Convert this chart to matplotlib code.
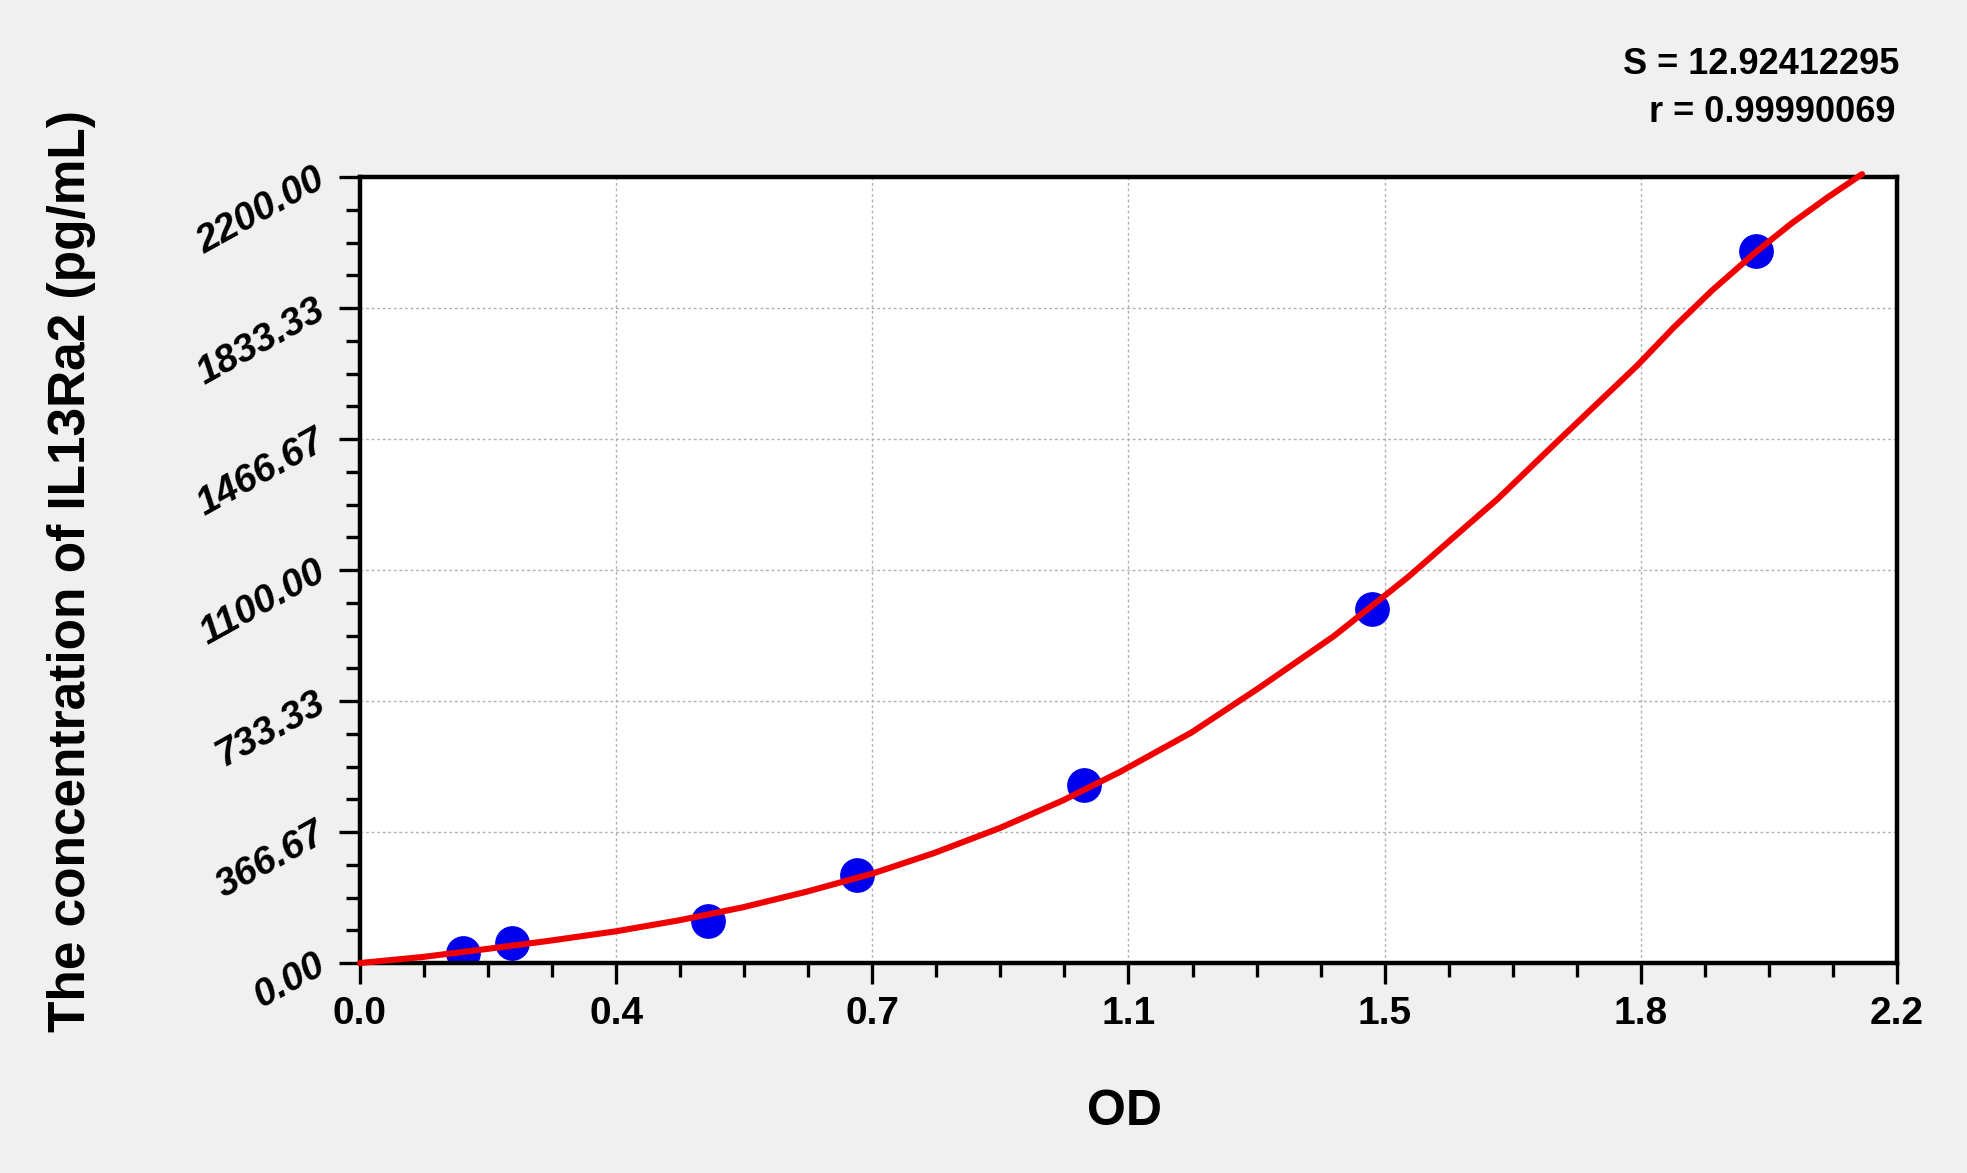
import numpy as np
import matplotlib
matplotlib.use('Agg')
import matplotlib.pyplot as plt
from matplotlib.ticker import FixedLocator, MultipleLocator

# standard points (OD, concentration)
od_std   = [0.147, 0.217, 0.498, 0.711, 1.037, 1.448, 1.998]
conc_std = [28, 55, 118, 245, 497, 992, 1993]

# fitted curve
od_fit   = [0.0, 0.09, 0.18, 0.27, 0.367, 0.458, 0.548, 0.638, 0.733, 0.822, 0.916,
            1.006, 1.088, 1.19, 1.286, 1.394, 1.50, 1.629, 1.714, 1.828, 1.88, 1.935,
            1.998, 2.049, 2.10, 2.15]
conc_fit = [0, 17, 39, 62, 89, 120, 156, 199, 250, 308, 378,
            455, 535, 645, 769, 915, 1080, 1300, 1460, 1672, 1778, 1882,
            1990, 2070, 2142, 2208]

x_ticks = [0.0, 2.2/6, 2.2*2/6, 1.1, 2.2*4/6, 2.2*5/6, 2.2]
x_labels = ['0.0', '0.4', '0.7', '1.1', '1.5', '1.8', '2.2']
y_ticks = [0.0, 366.67, 733.33, 1100.0, 1466.67, 1833.33, 2200.0]
y_labels = ['0.00', '366.67', '733.33', '1100.00', '1466.67', '1833.33', '2200.00']

S_text = 'S = 12.92412295'
r_text = 'r = 0.99990069'

plt.rcParams['font.family'] = ['Liberation Sans', 'DejaVu Sans']

fig = plt.figure(figsize=(19.67, 11.73), dpi=100, facecolor='#f0f0f0')
ax = fig.add_axes([0.1830, 0.1790, 0.7814, 0.6701])
ax.set_facecolor('white')

ax.plot(od_std, conc_std, 'o', color='#0000ee', markersize=24, zorder=2)
ax.plot(od_fit, conc_fit, '-', color='#f00000', linewidth=4.4, zorder=3,
        clip_on=False, solid_capstyle='round', solid_joinstyle='round')

ax.set_xlim(0, 2.2)
ax.set_ylim(0, 2200)

ax.xaxis.set_major_locator(FixedLocator(x_ticks))
ax.set_xticklabels(x_labels)
ax.xaxis.set_minor_locator(MultipleLocator(2.2/24))
ax.yaxis.set_major_locator(FixedLocator(y_ticks))
ax.set_yticklabels(y_labels)
ax.yaxis.set_minor_locator(MultipleLocator(2200/24))

ax.grid(True, which='major', linestyle=(0, (2, 2)), color='#b0b0b0', linewidth=1.0)
ax.set_axisbelow(True)

for s in ax.spines.values():
    s.set_linewidth(3.2)
ax.tick_params(which='major', direction='out', length=15, width=2.4, color='black')
ax.tick_params(which='minor', direction='out', length=10, width=2.4, color='black')
ax.tick_params(axis='x', which='major', labelsize=28, pad=9)
ax.tick_params(axis='y', which='major', labelsize=28, pad=12)

for lab in ax.get_xticklabels():
    lab.set_fontweight('bold')
for lab in ax.get_yticklabels():
    lab.set_fontweight('bold')
    lab.set_fontstyle('italic')
    lab.set_rotation(29)
    lab.set_rotation_mode('anchor')
    lab.set_ha('right')
    lab.set_va('center')

ax.set_xlabel('OD', fontsize=36, fontweight='bold', va='center')
ax.xaxis.set_label_coords(0.4977, -0.189)
ax.set_ylabel('The concentration of IL13Ra2 (pg/mL)', fontsize=37, fontweight='bold', va='center')
ax.yaxis.set_label_coords(-0.1877, 0.4987)

fig.text(1899/1967, 1 - 64/1173, S_text, ha='right', va='center', fontsize=26,
         fontweight='bold')
fig.text(1895/1967, 1 - 113/1173, r_text, ha='right', va='center', fontsize=26,
         fontweight='bold')

plt.savefig('out.png', dpi=100, facecolor=fig.get_facecolor())
